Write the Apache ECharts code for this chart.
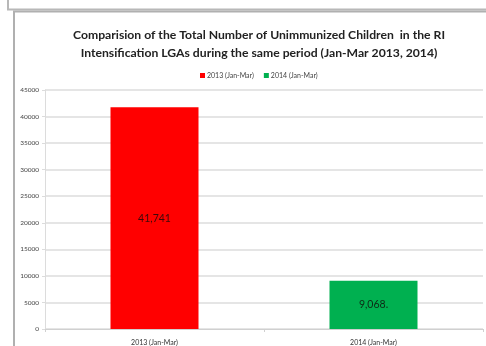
<!DOCTYPE html>
<html>
<head>
<meta charset="utf-8">
<script src="https://cdn.jsdelivr.net/npm/echarts@6/dist/echarts.min.js"></script>
<style>
  html, body { margin: 0; padding: 0; background: #fff; }
  #chart { width: 486px; height: 346px; }
</style>
</head>
<body>
<div id="chart"></div>
<script>
// Unimmunized children in RI intensification LGAs, Jan-Mar of each year
const categories = ['2013 (Jan-Mar)', '2014 (Jan-Mar)'];
const values = [41741, 9068];
const valueLabels = ['41,741', '9,068.'];
const barColors = ['#FF0000', '#00B050'];
const yTicks = [0, 5000, 10000, 15000, 20000, 25000, 30000, 35000, 40000, 45000];

const font = 'Lato, "Open Sans", "Liberation Sans", sans-serif';
const chart = echarts.init(document.getElementById('chart'));

chart.setOption({
  animation: false,
  backgroundColor: '#fff',
  title: {
    text: 'Comparision of the Total Number of Unimmunized Children  in the RI\nIntensification LGAs during the same period (Jan-Mar 2013, 2014)',
    left: 254,
    textAlign: 'center',
    top: 21,
    textStyle: { fontFamily: font, fontSize: 12.2, fontWeight: 'bold', color: '#222', lineHeight: 18 }
  },
  legend: {
    top: 67,
    left: 195,
    itemWidth: 5,
    itemHeight: 5,
    itemGap: 10,
    icon: 'rect',
    textStyle: { fontFamily: font, fontSize: 7, color: '#444', padding: [0, 0, 0, -3] },
    data: categories
  },
  graphic: [
    { type: 'polyline', shape: { points: [[8, 0], [8, 9.5], [486, 9.5]] }, style: { stroke: '#b8b8b8', lineWidth: 2, fill: 'none' } },
    { type: 'rect', shape: { x: 14, y: 11.5, width: 500, height: 400 }, style: { stroke: '#b0b0b0', lineWidth: 2, fill: 'none' } }
  ],
  grid: { left: 45, right: 3, top: 90, bottom: 17, containLabel: false },
  xAxis: {
    type: 'category',
    data: categories,
    axisLine: { lineStyle: { color: '#d0d0d0' } },
    axisTick: { show: true, length: 3, lineStyle: { color: '#d0d0d0' } },
    axisLabel: { fontFamily: font, fontSize: 7, color: '#333', margin: 10 }
  },
  yAxis: {
    type: 'value',
    min: 0,
    max: 45000,
    interval: 5000,
    axisLine: { show: true, lineStyle: { color: '#dcdcdc' } },
    axisTick: { show: true, length: 3, lineStyle: { color: '#dcdcdc' } },
    splitLine: { lineStyle: { color: '#dcdcdc', width: 1.5 } },
    axisLabel: {
      fontFamily: font, fontSize: 6.5, color: '#444', margin: 6,
      formatter: v => yTicks.includes(v) ? String(v) : ''
    }
  },
  series: categories.map((name, i) => ({
    name: name,
    type: 'bar',
    stack: 'all',
    barWidth: 88,
    itemStyle: { color: barColors[i] },
    label: {
      show: true,
      position: 'inside',
      fontFamily: font,
      fontSize: 10.5,
      color: i === 0 ? '#3a0a0a' : '#0d2a15',
      formatter: () => valueLabels[i]
    },
    data: categories.map((c, j) => (j === i ? values[i] : '-'))
  }))
});
</script>
</body>
</html>
